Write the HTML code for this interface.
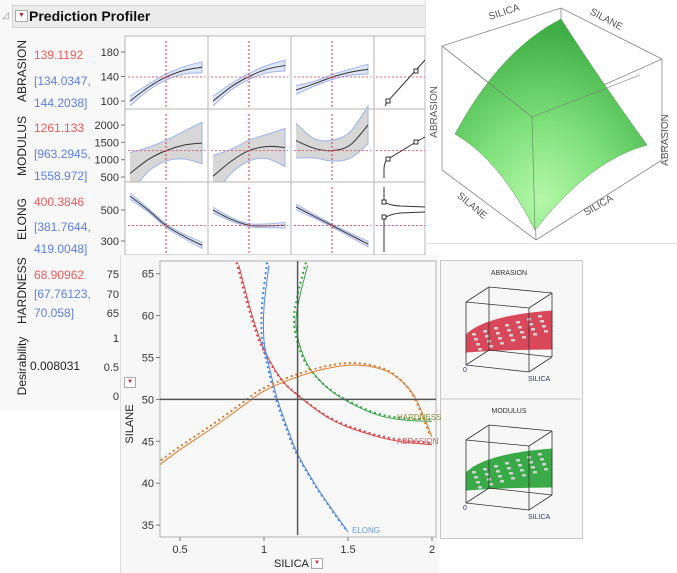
<!DOCTYPE html>
<html><head><meta charset="utf-8">
<style>
body{margin:0;width:677px;height:573px;background:#fff;font-family:"Liberation Sans",sans-serif;overflow:hidden;position:relative}
.abs{position:absolute}
.rot{position:absolute;transform:rotate(-90deg);transform-origin:center;white-space:nowrap;font-size:12px;color:#222}
.red{color:#f05a5a}.blue{color:#5b7fe8}
</style></head><body>
<div class="abs" style="left:0;top:0;width:425px;height:410px;background:#f8f8f8"></div>
<div class="abs" style="left:12px;top:5px;width:413px;height:21px;background:#ececec;border:1px solid #d4d4d4"></div>
<div class="abs" style="left:2px;top:10px;font-size:9px;color:#888">◿</div>
<div class="abs" style="left:15px;top:10px;width:11px;height:10px;border:1px solid #aaa;background:#fff;font-size:7px;color:#c0203a;text-align:center;line-height:10px">▼</div>
<div class="abs" style="left:29px;top:8px;font-size:14px;font-weight:bold;color:#111">Prediction Profiler</div>

<svg class="abs" style="left:0;top:0" width="677" height="573" id="main"></svg>

<div class="rot" style="left:-8px;top:65px;width:60px;text-align:center">ABRASION</div>
<div class="abs red" style="left:34px;top:48px;font-size:12px">139.1192</div>
<div class="abs blue" style="left:34px;top:70px;font-size:12px;line-height:22px">[134.0347,<br>144.2038]</div>
<div class="rot" style="left:-8px;top:139px;width:60px;text-align:center">MODULUS</div>
<div class="abs red" style="left:34px;top:121px;font-size:12px">1261.133</div>
<div class="abs blue" style="left:34px;top:143px;font-size:12px;line-height:22px">[963.2945,<br>1558.972]</div>
<div class="rot" style="left:-8px;top:212px;width:60px;text-align:center">ELONG</div>
<div class="abs red" style="left:34px;top:195px;font-size:12px">400.3846</div>
<div class="abs blue" style="left:34px;top:216px;font-size:12px;line-height:22px">[381.7644,<br>419.0048]</div>
<div class="rot" style="left:-8px;top:287px;width:60px;text-align:center">HARDNESS</div>
<div class="abs red" style="left:34px;top:268px;font-size:12px">68.90962</div>
<div class="abs blue" style="left:34px;top:285px;font-size:12px;line-height:19px">[67.76123,<br>70.058]</div>
<div class="rot" style="left:-13px;top:359px;width:70px;text-align:center">Desirability</div>
<div class="abs" style="left:30px;top:359px;font-size:12px;color:#222">0.008031</div>

<div class="abs" style="left:425px;top:0;width:252px;height:243px;background:#fff;border-left:1px solid #e0e0e0;border-bottom:1px solid #e0e0e0"></div>
<svg class="abs" style="left:0;top:0" width="677" height="573" id="top3d"></svg>

<div class="abs" style="left:120px;top:255px;width:318px;height:318px;background:#f7f7f7;border-left:1px solid #ddd"></div>
<div class="abs" style="left:440px;top:260px;width:141px;height:277px;background:#f7f7f7;border:1px solid #c8c8c8"></div>
<svg class="abs" style="left:0;top:0" width="677" height="573" id="contour"></svg>
<div class="rot" style="left:108px;top:418px;width:44px;text-align:center;font-size:11px">SILANE</div>
<div class="abs" style="left:124px;top:377px;width:10px;height:9px;border:1px solid #aaa;background:#fff;font-size:6px;color:#c0203a;text-align:center;line-height:9px">▼</div>
<div class="abs" style="left:274px;top:558px;font-size:11px;color:#222">SILICA</div>
<div class="abs" style="left:311px;top:558px;width:10px;height:9px;border:1px solid #aaa;background:#fff;font-size:6px;color:#c0203a;text-align:center;line-height:9px">▼</div>

<script>
const NS="http://www.w3.org/2000/svg";
function mk(parent,tag,attrs){const e=document.createElementNS(NS,tag);for(const k in attrs)e.setAttribute(k,attrs[k]);parent.appendChild(e);return e;}
const S=document.getElementById('main');

const colLefts=[125,208,291,374];
const rowTops=[36,109,182];
const rowNames=['abrasion','modulus','elong'];
const rowTickVals=[[180,140,100],[2000,1500,1000,500],[500,300]];
const rowDomains=[[180,100,52,101],[2000,500,125,177],[500,300,210,241]];
const rowCurrent=[139.1192,1261.133,400.3846];
const abrasionCurves=[[100,122,139,150,155],[100,123,140,152,158],[118,128,139,147,152]];
const abrasionBands=[[8,5,5,6,9],[8,5,5,6,9],[7,4,4,5,8]];
const modulusCurves=[[600,1000,1261,1420,1480],[520,950,1261,1380,1350],[1550,1330,1261,1420,2000]];
const modulusBands=[[600,350,300,400,600],[600,350,300,350,550],[500,280,300,380,550]];
const elongCurves=[[590,500,400,330,272],[500,440,402,398,402],[520,460,400,340,280]];
const elongBands=[[20,12,12,14,20],[18,12,10,12,18],[18,12,10,12,18]];
const curves=[abrasionCurves,modulusCurves,elongCurves];
const bands=[abrasionBands,modulusBands,elongBands];
const xFrac=[0,0.25,0.5,0.75,1];

function smooth(p){
  let d='M'+p[0][0].toFixed(1)+','+p[0][1].toFixed(1);
  for(let i=0;i<p.length-1;i++){
    const p0=p[Math.max(0,i-1)],p1=p[i],p2=p[i+1],p3=p[Math.min(p.length-1,i+2)];
    const c1=[p1[0]+(p2[0]-p0[0])/6,p1[1]+(p2[1]-p0[1])/6];
    const c2=[p2[0]-(p3[0]-p1[0])/6,p2[1]-(p3[1]-p1[1])/6];
    d+=' C'+c1[0].toFixed(1)+','+c1[1].toFixed(1)+' '+c2[0].toFixed(1)+','+c2[1].toFixed(1)+' '+p2[0].toFixed(1)+','+p2[1].toFixed(1);
  }
  return d;
}
function yOf(r,v){const d=rowDomains[r];return d[2]+(v-d[0])/(d[1]-d[0])*(d[3]-d[2]);}
for(let r=0;r<3;r++){
  const top=rowTops[r];
  for(let c=0;c<4;c++){
    const cell=mk(S,'rect',{x:colLefts[c],y:top,width:c<3?83:51,height:73,fill:'#fff',stroke:'#b5b5b5'});
    
    
  }
  rowTickVals[r].forEach(v=>{
    const y=yOf(r,v);
    const t=mk(S,'text',{x:119,y:y+4,'text-anchor':'end','font-size':11,fill:'#333','font-family':'Liberation Sans'});t.textContent=v;
    
    
    mk(S,'line',{x1:121,x2:125,y1:y,y2:y,stroke:'#777'});
  });
  for(let c=0;c<3;c++){
    const x0=colLefts[c]+5,w=72;
    const cv=curves[r][c],bd=bands[r][c];
    const pts=cv.map((v,i)=>[x0+xFrac[i]*w,yOf(r,v)]);
    const up=cv.map((v,i)=>[x0+xFrac[i]*w,yOf(r,v+bd[i])]);
    const lo=cv.map((v,i)=>[x0+xFrac[i]*w,yOf(r,v-bd[i])]);
    const band=mk(S,'path',{d:smooth(up)+' L'+smooth(lo.slice().reverse()).slice(1),fill:r==0||r==2?'#dfe6f7':'#d7d7d7',stroke:'#9fb3ee','stroke-width':1});
    
    
    const ln=mk(S,'path',{d:smooth(pts),fill:'none',stroke:'#333','stroke-width':1});
    
    
    const vx=colLefts[c]+41;
    mk(S,'line',{x1:vx,x2:vx,y1:top+5,y2:top+73,stroke:'#e53040','stroke-dasharray':'2,2'});
    const hy=yOf(r,rowCurrent[r]);
    mk(S,'line',{x1:colLefts[c]+3,x2:colLefts[c]+80,y1:hy,y2:hy,stroke:'#f06070','stroke-dasharray':'2,2'});
  }
  const hy=yOf(r,rowCurrent[r]);
  mk(S,'line',{x1:376,x2:425,y1:hy,y2:hy,stroke:'#f06070','stroke-dasharray':'2,2'});
}
mk(S,'path',{d:'M385,106 L388,101 L416,70 L425,60',fill:'none',stroke:'#333'});
mk(S,'rect',{x:386,y:99,width:4,height:4,fill:'#fff',stroke:'#333'});
mk(S,'rect',{x:414,y:69,width:4,height:4,fill:'#fff',stroke:'#333'});
mk(S,'path',{d:'M384,178 L384,168 Q385,160 388,159 L416,142 L425,137',fill:'none',stroke:'#333'});
mk(S,'rect',{x:386,y:157,width:4,height:4,fill:'#fff',stroke:'#333'});
mk(S,'rect',{x:414,y:140,width:4,height:4,fill:'#fff',stroke:'#333'});
mk(S,'path',{d:'M384,187 L384,200 Q385,205 400,206 L425,207',fill:'none',stroke:'#333'});
mk(S,'path',{d:'M384,252 L384,220 Q385,215 400,213 L425,212',fill:'none',stroke:'#333'});
mk(S,'rect',{x:382,y:200,width:4,height:4,fill:'#fff',stroke:'#333'});
mk(S,'rect',{x:382,y:215,width:4,height:4,fill:'#fff',stroke:'#333'});

const T=document.getElementById('top3d');
const defs=mk(T,'defs',{});
const rg=mk(defs,'radialGradient',{id:'gsurf',cx:'0.45',cy:'0.85',r:'0.8'});
mk(rg,'stop',{offset:'0','stop-color':'#b4f7a8'});
mk(rg,'stop',{offset:'0.45','stop-color':'#7ee07a'});
mk(rg,'stop',{offset:'1','stop-color':'#3fae45'});
const boxEdges=[[442,46,561,8],[561,8,662,59],[662,59,532,117],[532,117,442,46],[442,46,442,170],[662,59,662,160],[532,117,536,240],[442,170,536,240],[536,240,662,160],[561,8,561,60]];
boxEdges.forEach(e=>mk(T,'line',{x1:e[0],y1:e[1],x2:e[2],y2:e[3],stroke:'#888','stroke-width':0.8}));
const surf=mk(T,'path',{d:'M455,134 Q500,50 561,19 Q600,80 647,145 Q590,160 535,230 Q500,160 455,134 Z',fill:'url(#gsurf)',stroke:'#4a9a4a','stroke-width':0.5});


mk(T,'line',{x1:532,y1:117,x2:535,y2:230,stroke:'#5a8a5a','stroke-width':0.6});
mk(T,'line',{x1:532,y1:117,x2:640,y2:75,stroke:'#777','stroke-width':0.6});
mk(T,'line',{x1:532,y1:117,x2:470,y2:68,stroke:'#777','stroke-width':0.6});
const lbl3d=[['SILICA',505,15,-18],['SILANE',605,22,28],['ABRASION',437,112,-90],['ABRASION',668,140,-90],['SILANE',470,208,40],['SILICA',600,208,-30]];
lbl3d.forEach(l=>{const e=mk(T,'text',{x:l[1],y:l[2],'font-size':10,fill:'#555','text-anchor':'middle','font-family':'Liberation Sans',transform:'rotate('+l[3]+' '+l[1]+' '+l[2]+')'});e.textContent=l[0];

});

const C=document.getElementById('contour');
const lowTicks=[['75',274],['70',294],['65',313],['1',338],['0.5',367],['0',396]];
lowTicks.forEach(t=>{const e=mk(C,'text',{x:119,y:t[1]+4,'text-anchor':'end','font-size':11,fill:'#333','font-family':'Liberation Sans'});e.textContent=t[0];

});
const X0=0.5,XP0=180,XPU=168, Y0=65,YP0=273.7,YPU=8.38;
const sx=v=>XP0+(v-X0)*XPU, sy=v=>YP0+(Y0-v)*YPU;
const xTicks=[0.5,1,1.5,2];
const yTicks=[35,40,45,50,55,60,65];
const abrasionSilica=[0.85,0.93,1.0,1.1,1.2,1.4,1.6,1.8,2.0];
const abrasionSilane=[66,60,56,52.5,50.5,47.6,46,45,44.6];
const elongSilica=[1.03,1.0,1.0,1.03,1.08,1.15,1.2,1.3,1.4,1.5];
const elongSilane=[66,61,57,54,50,46,43.5,40,37,34.2];
const hardnessSilica=[1.26,1.21,1.19,1.22,1.28,1.4,1.55,1.7,1.85,2.0];
const hardnessSilane=[66,62,59,56,53.5,51,49.2,48,47.5,47.4];
const modulusSilica=[0.38,0.5,0.7,0.9,1.0,1.2,1.4,1.55,1.7,1.8,1.9,2.0];
const modulusSilane=[42.2,44,46.7,49.6,51,52.7,53.8,54.1,53.6,52.5,50.2,45.5];
const series=[['abrasion',abrasionSilica,abrasionSilane,'#d9464a'],['elong',elongSilica,elongSilane,'#4a86e8'],['hardness',hardnessSilica,hardnessSilane,'#3aa64a'],['modulus',modulusSilica,modulusSilane,'#e07b2a']];
mk(C,'rect',{x:160,y:261,width:276,height:276,fill:'#f8f8f8',stroke:'#b0b0b0'});
const cp=mk(defs,'clipPath',{id:'cclip'});mk(cp,'rect',{x:160,y:261,width:276,height:276});
xTicks.forEach(v=>{mk(C,'line',{x1:sx(v),x2:sx(v),y1:537,y2:541,stroke:'#777'});const t=mk(C,'text',{x:sx(v),y:553,'text-anchor':'middle','font-size':11,fill:'#333','font-family':'Liberation Sans'});t.textContent=v;

});
yTicks.forEach(v=>{mk(C,'line',{x1:156,x2:160,y1:sy(v),y2:sy(v),stroke:'#777'});const t=mk(C,'text',{x:154,y:sy(v)+4,'text-anchor':'end','font-size':11,fill:'#333','font-family':'Liberation Sans'});t.textContent=v;

});
const g=mk(C,'g',{'clip-path':'url(#cclip)'});
series.forEach(s=>{
  const pts=s[1].map((v,i)=>[sx(v),sy(s[2][i])]);
  const p=mk(g,'path',{d:smooth(pts),fill:'none',stroke:s[3],'stroke-width':1});
  
  
  const dp=mk(g,'path',{d:smooth(pts),fill:'none',stroke:s[3],'stroke-width':2.3,'stroke-dasharray':'0,5','stroke-linecap':'round',transform:'translate(-2,-2)'});
  
  
});
mk(C,'line',{x1:sx(1.2),x2:sx(1.2),y1:261,y2:535,stroke:'#555','stroke-width':1.5});
mk(C,'line',{x1:160,x2:436,y1:sy(50),y2:sy(50),stroke:'#555','stroke-width':1.5});
const clbl=[['ELONG',352,533,'#6b9be8'],['HARDNESS',397,420,'#8a8a3a'],['ABRASION',397,444,'#c86060']];
clbl.forEach(l=>{const t=mk(C,'text',{x:l[1],y:l[2],'font-size':8,fill:l[3],'font-family':'Liberation Sans'});t.textContent=l[0];

});

mk(C,'line',{x1:440,x2:581,y1:399,y2:399,stroke:'#c8c8c8'});
function miniCube(oy,title,col){
  const t=mk(C,'text',{x:509,y:oy+14,'text-anchor':'middle','font-size':7,fill:'#333','font-family':'Liberation Sans'});t.textContent=title;
  
  
  const bTL=[489,oy+26],bTR=[552,oy+32],fTL=[466,oy+41],fTR=[529,oy+47],fBL=[466,oy+104],fBR=[529,oy+111],bBR=[552,oy+96],bBL=[489,oy+89];
  const sp=mk(C,'path',{d:`M466,${oy+74} Q485,${oy+55} 552,${oy+50} L552,${oy+88} Q510,${oy+88} 466,${oy+91} Z`,fill:col,stroke:col});
  
  
  for(let i=0;i<7;i++)for(let j=0;j<4;j++){mk(C,'rect',{x:472+i*11+j*2,y:oy+72-i*3+j*5,width:4,height:2.5,fill:'#d0d0d0'});}
  const seg=[[bTL,bTR],[fTL,fTR],[bTL,fTL],[bTR,fTR],[fTL,fBL],[fTR,fBR],[bTR,bBR],[fBL,fBR],[fBR,bBR],[bTL,bBL],[bBL,bBR],[bBL,fBL]];
  seg.forEach(s=>mk(C,'line',{x1:s[0][0],y1:s[0][1],x2:s[1][0],y2:s[1][1],stroke:'#333','stroke-width':0.8}));
  const z=mk(C,'text',{x:463,y:oy+111,'font-size':7,fill:'#336','font-family':'Liberation Sans'});z.textContent='0';
  const si=mk(C,'text',{x:528,y:oy+120,'font-size':7,fill:'#336','font-family':'Liberation Sans'});si.textContent='SILICA';
  
  
}
miniCube(261,'ABRASION','#d9485a');
miniCube(399,'MODULUS','#3aaa48');
</script>
</body></html>
